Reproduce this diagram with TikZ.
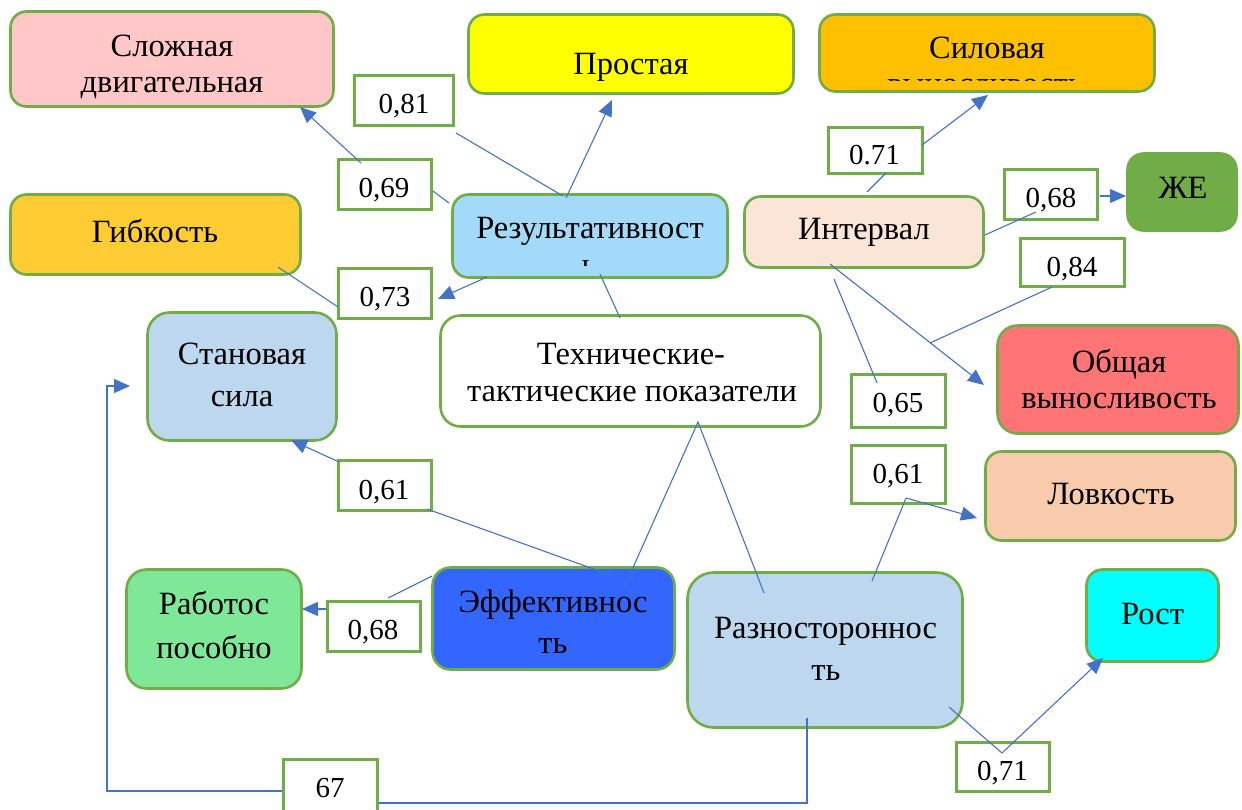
\documentclass[tikz,border=0pt]{standalone}
\usepackage{fontspec}
\setmainfont{Liberation Serif}
\usetikzlibrary{arrows.meta}
\definecolor{gr}{HTML}{70AD47}
\definecolor{bl}{HTML}{4472C4}
\definecolor{cPink}{HTML}{FFC7C7}
\definecolor{cYel}{HTML}{FFFF00}
\definecolor{cOra}{HTML}{FFC000}
\definecolor{cSky}{HTML}{A3DAFA}
\definecolor{cGold}{HTML}{FFCC33}
\definecolor{cPeach}{HTML}{FBE5D6}
\definecolor{cSteel}{HTML}{BDD7EE}
\definecolor{cRed}{HTML}{FF7575}
\definecolor{cTan}{HTML}{F8CBAD}
\definecolor{cCyan}{HTML}{00FFFF}
\definecolor{cMint}{HTML}{7EE898}
\definecolor{cBlue}{HTML}{3366FF}
\begin{document}
\begin{tikzpicture}[x=1pt,y=-1pt,
  bx/.style={draw=gr,line width=2.6pt,rounded corners=#1,inner sep=0pt},
  bx/.default=16,
  lb/.style={draw=gr,line width=2.6pt,fill=white,inner sep=0pt},
  tx/.style={font=\fontsize{32.5}{38}\selectfont,inner sep=0pt,anchor=base},
  lt/.style={font=\fontsize{29}{34}\selectfont,inner sep=0pt,anchor=base},
  cn/.style={draw=bl,line width=1.1pt},
  ar/.style={cn,-{Triangle[length=16pt,width=14pt]}}]
\useasboundingbox (0,0) rectangle (1242,809);

% ---------- main boxes ----------
\node[bx,fill=cPink,minimum width=323,minimum height=95] (slozh) at (172,59) {};
\node[bx,fill=cYel,minimum width=325,minimum height=79] (prost) at (631,54) {};
\node[bx,fill=cOra,minimum width=335,minimum height=77] (silov) at (987,53) {};
\node[bx,fill=cSky,minimum width=275,minimum height=83] (rez) at (590,236) {};
\node[bx,fill=cGold,minimum width=290,minimum height=80] (gibk) at (155.5,234.5) {};
\node[bx,fill=cPeach,minimum width=239,minimum height=71] (inter) at (864,232) {};
\node[bx,fill=gr,minimum width=109,minimum height=77] (zhe) at (1182,192) {};
\node[bx=22,fill=cSteel,minimum width=189,minimum height=128] (stan) at (242,376.5) {};
\node[bx=20,fill=white,minimum width=380,minimum height=111] (tech) at (630.5,371) {};
\node[bx=20,fill=cRed,minimum width=241,minimum height=108] (obsh) at (1118,379.5) {};
\node[bx,fill=cTan,minimum width=250,minimum height=89] (lovk) at (1110.5,496) {};
\node[bx,fill=cCyan,minimum width=132,minimum height=92] (rost) at (1152.5,615.5) {};
\node[bx=20,fill=cMint,minimum width=175,minimum height=119] (rabot) at (214,629) {};
\node[bx=18,fill=cBlue,minimum width=242,minimum height=102] (effek) at (553.5,618.5) {};
\node[bx=26,fill=cSteel,minimum width=275,minimum height=155] (razn) at (825,650) {};

% ---------- texts of main boxes ----------
\node[tx] (tSl1) at (172,56) {Сложная};
\node[tx] (tSl2) at (172,92) {двигательная};
\node[tx] (tPr) at (631,74) {Простая};
\node[tx] (tSi1) at (987,58) {Силовая};
\begin{scope}
  \clip (818,40) rectangle (1156,80);
  \node[tx] (tSi2) at (985,94.5) {выносливость};
\end{scope}
\node[tx] (tRe1) at (590,238.5) {Результативност};
\begin{scope}
  \clip (451,245) rectangle (729,265);
  \node[tx] (tRe2) at (589,275) {ь};
\end{scope}
\node[tx] (tGi) at (155,242) {Гибкость};
\node[tx] (tIn) at (864,239.5) {Интервал};
\node[tx] (tZh) at (1183,198) {ЖЕ};
\node[tx] (tSt1) at (242,364) {Становая};
\node[tx] (tSt2) at (242,406) {сила};
\node[tx] (tTe1) at (631,364) {Технические-};
\node[tx] (tTe2) at (632,401) {тактические показатели};
\node[tx] (tOb1) at (1119,372) {Общая};
\node[tx] (tOb2) at (1119,408) {выносливость};
\node[tx] (tLo) at (1111,504) {Ловкость};
\node[tx] (tRo) at (1152.5,624) {Рост};
\node[tx] (tRa1) at (214,614) {Работос};
\node[tx] (tRa2) at (214,658) {пособно};
\node[tx] (tEf1) at (553,612) {Эффективнос};
\node[tx] (tEf2) at (553,653) {ть};
\node[tx] (tRz1) at (825.5,638) {Разностороннос};
\node[tx] (tRz2) at (826,680) {ть};

% ---------- label boxes ----------
\node[lb,minimum width=99,minimum height=50] (l081) at (404,100.5) {};
\node[lb,minimum width=93,minimum height=50] (l069) at (385,184.5) {};
\node[lb,minimum width=93,minimum height=50] (l073) at (385,293.5) {};
\node[lb,minimum width=94,minimum height=46] (l071t) at (875.5,150.5) {};
\node[lb,minimum width=93,minimum height=50] (l068t) at (1051,194.5) {};
\node[lb,minimum width=104,minimum height=48] (l084) at (1072.5,262.5) {};
\node[lb,minimum width=94,minimum height=53] (l065) at (898.5,401) {};
\node[lb,minimum width=94,minimum height=58] (l061r) at (898.5,474.5) {};
\node[lb,minimum width=93,minimum height=50] (l061l) at (385,485.5) {};
\node[lb,minimum width=93,minimum height=50] (l068l) at (374,626.5) {};
\node[lb,minimum width=94,minimum height=59] (l67) at (330.5,789) {};
\node[lb,minimum width=93,minimum height=49] (l071b) at (1003,767) {};

\node[lt] (n081) at (404,113) {0,81};
\node[lt] (n069) at (384,197) {0,69};
\node[lt] (n073) at (385,306) {0,73};
\node[lt] (n071t) at (874.5,164) {0.71};
\node[lt] (n068t) at (1051,207) {0,68};
\node[lt] (n084) at (1072,276) {0,84};
\node[lt] (n065) at (898,412) {0,65};
\node[lt] (n061r) at (898,483) {0,61};
\node[lt] (n061l) at (384,499) {0,61};
\node[lt] (n068l) at (373,639) {0,68};
\node[lt] (n67) at (330,797) {67};
\node[lt] (n071b) at (1002.5,780) {0,71};

% ---------- connector end points ----------
\coordinate (a1) at (566,198);   \coordinate (a2) at (612,100);
\coordinate (b1) at (456,133);   \coordinate (b2) at (563,196);
\coordinate (c1) at (361,163);   \coordinate (c2) at (300,107);
\coordinate (d1) at (433,191);   \coordinate (d2) at (449,203);
\coordinate (e1) at (278,267);   \coordinate (e2) at (338,307);
\coordinate (f1) at (487,277);   \coordinate (f2) at (438,299);
\coordinate (g1) at (600,274);   \coordinate (g2) at (620,318);
\coordinate (h1) at (867,192);   \coordinate (h2) at (886,173);
\coordinate (i1) at (922,145);   \coordinate (i2) at (988,95);
\coordinate (j1) at (985,235);   \coordinate (j2) at (1036,212);
\coordinate (k1) at (1100,196);  \coordinate (k2) at (1126,196);
\coordinate (m1) at (830,264);   \coordinate (m2) at (984,385);
\coordinate (o1) at (1052,287);  \coordinate (o2) at (930,343);
\coordinate (p1) at (834,279);   \coordinate (p2) at (877,383);
\coordinate (q0) at (698,422);
\coordinate (q1) at (623,590);   \coordinate (q2) at (764,593);
\coordinate (r1) at (339,462);   \coordinate (r2) at (291,440);
\coordinate (s1) at (427,509);   \coordinate (s2) at (613,576);
\coordinate (u1) at (432,576);   \coordinate (u2) at (388,598);
\coordinate (v1) at (326,609);   \coordinate (v2) at (302,609);
\coordinate (w1) at (872,581);   \coordinate (w2) at (906,498);
\coordinate (w3) at (977,518);
\coordinate (y1) at (949,707);   \coordinate (y2) at (1002,753);
\coordinate (y3) at (1103,658);
\coordinate (z1) at (807,718);   \coordinate (z2) at (379,803);
\coordinate (z3) at (282,791);   \coordinate (z4) at (130,386);

% ---------- connectors ----------
\draw[ar] (a1) -- (a2);
\draw[cn] (b1) -- (b2);
\draw[ar] (c1) -- (c2);
\draw[cn] (d1) -- (d2);
\draw[cn] (e1) -- (e2);
\draw[ar] (f1) -- (f2);
\draw[cn] (g1) -- (g2);
\draw[cn] (h1) -- (h2);
\draw[ar] (i1) -- (i2);
\draw[cn] (j1) -- (j2);
\draw[ar] (k1) -- (k2);
\draw[ar] (m1) -- (m2);
\draw[cn] (o1) -- (o2);
\draw[cn] (p1) -- (p2);
\draw[cn] (q1) -- (q0) -- (q2);
\draw[ar] (r1) -- (r2);
\draw[cn] (s1) -- (s2);
\draw[cn] (u1) -- (u2);
\draw[ar] (v1) -- (v2);
\draw[cn] (w1) -- (w2);
\draw[ar] (w2) -- (w3);
\draw[cn] (y1) -- (y2);
\draw[ar] (y2) -- (y3);
\draw[cn] (z1) |- (z2);
\draw[ar] (z3) -| (107,386) -- (z4);
\end{tikzpicture}
\end{document}
